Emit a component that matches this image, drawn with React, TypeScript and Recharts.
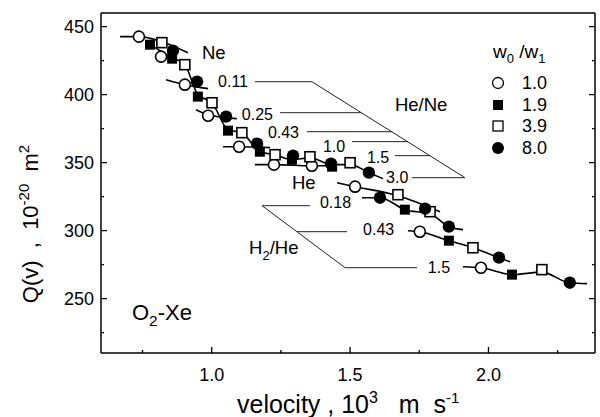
import React from 'react';
import { ComposedChart, Scatter, Line, XAxis, YAxis, ReferenceLine, Legend } from 'recharts';

const FONT = '"Liberation Sans", Arial, Helvetica, sans-serif';
const INK = '#000';

const xTicks = [0.75, 1.0, 1.25, 1.5, 1.75, 2.0, 2.25];
const xTickLabels = ['1.0', '1.5', '2.0'];
const yTicks = [225, 250, 275, 300, 325, 350, 375, 400, 425, 450];
const yTickLabels = ['250', '300', '350', '400', '450'];

const ratioNames = ['1.0', '1.9', '3.9', '8.0'];

// w0/w1 = 1.0 (open circles)
const ratio10 = [
  { x: 0.737, y: 442.6 }, { x: 0.817, y: 427.9 }, { x: 0.903, y: 407.3 }, { x: 0.987, y: 384.5 },
  { x: 1.099, y: 361.7 }, { x: 1.225, y: 348.5 }, { x: 1.362, y: 347.7 }, { x: 1.518, y: 332.3 },
  { x: 1.752, y: 299.2 }, { x: 1.973, y: 272.7 },
];
// w0/w1 = 1.9 (filled squares)
const ratio19 = [
  { x: 0.777, y: 436.7 }, { x: 0.857, y: 426.4 }, { x: 0.95, y: 398.5 }, { x: 1.059, y: 373.5 },
  { x: 1.174, y: 358.0 }, { x: 1.29, y: 352.1 }, { x: 1.435, y: 347.0 }, { x: 1.698, y: 315.4 },
  { x: 1.857, y: 292.6 }, { x: 2.085, y: 267.6 },
];
// w0/w1 = 3.9 (open squares)
const ratio39 = [
  { x: 0.82, y: 438.2 }, { x: 0.903, y: 422.0 }, { x: 1.001, y: 394.0 }, { x: 1.109, y: 372.0 },
  { x: 1.229, y: 355.8 }, { x: 1.355, y: 354.3 }, { x: 1.5, y: 349.9 }, { x: 1.673, y: 326.4 },
  { x: 1.789, y: 313.9 }, { x: 1.944, y: 287.4 }, { x: 2.193, y: 271.3 },
];
// w0/w1 = 8.0 (filled circles)
const ratio80 = [
  { x: 0.86, y: 432.3 }, { x: 0.947, y: 409.5 }, { x: 1.052, y: 383.8 }, { x: 1.164, y: 363.9 },
  { x: 1.294, y: 355.1 }, { x: 1.431, y: 349.2 }, { x: 1.568, y: 342.6 }, { x: 1.608, y: 324.2 },
  { x: 1.771, y: 316.1 }, { x: 1.857, y: 302.9 }, { x: 2.038, y: 280.1 }, { x: 2.294, y: 261.7 },
];

// hand-drawn fit curves
const fitNe = [{ x: 0.669, y: 442.6 }, { x: 0.737, y: 442.6 }, { x: 0.82, y: 438.9 }, { x: 0.914, y: 430.8 }];
const fitBand = [
  { x: 0.777, y: 436.7 }, { x: 0.857, y: 427.1 }, { x: 0.903, y: 422.0 }, { x: 0.95, y: 399.9 },
  { x: 1.001, y: 394.0 }, { x: 1.059, y: 374.2 }, { x: 1.109, y: 372.0 }, { x: 1.174, y: 358.0 },
  { x: 1.229, y: 355.8 }, { x: 1.29, y: 352.1 }, { x: 1.355, y: 353.5 }, { x: 1.435, y: 348.5 },
  { x: 1.5, y: 348.5 }, { x: 1.568, y: 342.6 }, { x: 1.619, y: 338.2 },
];
const fit011 = [{ x: 0.835, y: 411.0 }, { x: 0.903, y: 407.3 }, { x: 0.987, y: 404.4 }];
const fit025 = [{ x: 0.943, y: 388.9 }, { x: 0.987, y: 385.2 }, { x: 1.091, y: 382.3 }];
const fit043 = [{ x: 1.041, y: 361.7 }, { x: 1.099, y: 361.7 }, { x: 1.211, y: 361.0 }];
const fit10 = [{ x: 1.156, y: 348.5 }, { x: 1.225, y: 348.5 }, { x: 1.362, y: 347.7 }, { x: 1.427, y: 347.7 }];
const fitHe = [{ x: 1.453, y: 335.2 }, { x: 1.518, y: 332.3 }, { x: 1.673, y: 325.7 }, { x: 1.825, y: 313.9 }];
const fitH018 = [
  { x: 1.543, y: 324.2 }, { x: 1.608, y: 324.2 }, { x: 1.698, y: 315.4 }, { x: 1.789, y: 312.4 },
  { x: 1.857, y: 302.9 }, { x: 1.908, y: 300.7 },
];
const fitH043 = [
  { x: 1.709, y: 299.9 }, { x: 1.752, y: 299.2 }, { x: 1.857, y: 292.6 }, { x: 1.944, y: 287.4 },
  { x: 2.038, y: 280.1 }, { x: 2.078, y: 277.1 },
];
const fitH15 = [
  { x: 1.908, y: 273.4 }, { x: 1.973, y: 272.7 }, { x: 2.085, y: 267.6 }, { x: 2.193, y: 269.5 },
  { x: 2.291, y: 261.7 }, { x: 2.356, y: 261.0 },
];
const fitCurves = [fitNe, fitBand, fit011, fit025, fit043, fit10, fitHe, fitH018, fitH043, fitH15];

// leader lines of the mixture labels: [x1, y1, x2, y2]
const leaderLines = [
  [1.156, 409.5, 1.362, 409.5],
  [1.362, 409.5, 1.915, 338.9],
  [1.247, 386.7, 1.539, 386.7],
  [1.344, 372.7, 1.651, 372.7],
  [1.507, 365.4, 1.709, 365.4],
  [1.662, 355.1, 1.789, 355.1],
  [1.724, 338.9, 1.915, 338.9],
  [1.182, 318.3, 1.355, 318.3],
  [1.182, 318.3, 1.482, 272.7],
  [1.308, 299.2, 1.489, 299.2],
  [1.482, 272.7, 1.742, 272.7],
];

const ratioNotes = [
  { x: 1.023, y: 409.5, text: '0.11' },
  { x: 1.109, y: 385.2, text: '0.25' },
  { x: 1.203, y: 372.0, text: '0.43' },
  { x: 1.402, y: 361.7, text: '1.0' },
  { x: 1.561, y: 354.3, text: '1.5' },
  { x: 1.63, y: 338.9, text: '3.0' },
  { x: 1.391, y: 320.5, text: '0.18' },
  { x: 1.547, y: 300.7, text: '0.43' },
  { x: 1.781, y: 273.4, text: '1.5' },
];
const gasNotes = [
  { x: 0.965, y: 430.8, text: 'Ne', sub: '', tail: '' },
  { x: 1.662, y: 392.6, text: 'He/Ne', sub: '', tail: '' },
  { x: 1.29, y: 335.2, text: 'He', sub: '', tail: '' },
  { x: 1.135, y: 287.4, text: 'H', sub: '2', tail: '/He' },
];
const systemNote = [{ x: 0.712, y: 240.4, text: 'O', sub: '2', tail: '-Xe' }];

const OpenCircle = ({ cx, cy }: any) => <circle cx={cx} cy={cy} r={5.5} fill="#fff" stroke={INK} strokeWidth={1.6} />;
const FilledSquare = ({ cx, cy }: any) => <rect x={cx - 5} y={cy - 5} width={10} height={10} fill={INK} />;
const OpenSquare = ({ cx, cy }: any) => (
  <rect x={cx - 5} y={cy - 5} width={10} height={10} fill="#fff" stroke={INK} strokeWidth={1.6} />
);
const FilledCircle = ({ cx, cy }: any) => <circle cx={cx} cy={cy} r={6.2} fill={INK} />;

const makeNote = (size: number) => ({ cx, cy, payload }: any) => (
  <text x={cx} y={cy + size * 0.36} fontSize={size} fontFamily={FONT} fill={INK}>
    {payload.text}
    {payload.sub ? <tspan dy={size * 0.3} fontSize={size * 0.7}>{payload.sub}</tspan> : null}
    {payload.tail ? <tspan dy={-size * 0.3}>{payload.tail}</tspan> : null}
  </text>
);
const RatioNote = makeNote(16);
const GasNote = makeNote(18.5);
const SystemNote = makeNote(22);

const BottomTick = ({ x, y, payload }: any) => {
  const label = Number(payload.value).toFixed(1);
  const major = xTickLabels.includes(label);
  return (
    <g>
      <line x1={x} x2={x} y1={y} y2={y - (major ? 6 : 3)} stroke={INK} strokeWidth={1.3} />
      {major && (
        <text x={x} y={y + 28} textAnchor="middle" fontSize={18} fontFamily={FONT} fill={INK}>
          {label}
        </text>
      )}
    </g>
  );
};
const TopTick = ({ x, y, payload }: any) => {
  const major = xTickLabels.includes(Number(payload.value).toFixed(1));
  return <line x1={x} x2={x} y1={y} y2={y + (major ? 6 : 3)} stroke={INK} strokeWidth={1.3} />;
};
const LeftTick = ({ x, y, payload }: any) => {
  const label = String(payload.value);
  const major = yTickLabels.includes(label);
  return (
    <g>
      <line x1={x} x2={x + (major ? 6 : 3)} y1={y} y2={y} stroke={INK} strokeWidth={1.3} />
      {major && (
        <text x={x - 7} y={y + 6.5} textAnchor="end" fontSize={18} fontFamily={FONT} fill={INK}>
          {label}
        </text>
      )}
    </g>
  );
};
const RightTick = ({ x, y, payload }: any) => {
  const major = yTickLabels.includes(String(payload.value));
  return <line x1={x} x2={x - (major ? 6 : 3)} y1={y} y2={y} stroke={INK} strokeWidth={1.3} />;
};

const legendMarkers = [
  <circle cx={10} cy={10} r={5.5} fill="#fff" stroke={INK} strokeWidth={1.3} />,
  <rect x={5} y={5} width={10} height={10} fill={INK} />,
  <rect x={5} y={5} width={10} height={10} fill="#fff" stroke={INK} strokeWidth={1.3} />,
  <circle cx={10} cy={10} r={6} fill={INK} />,
];

const LegendBox = () => (
  <div style={{ position: 'relative', width: 110, height: 130, fontFamily: FONT, color: INK }}>
    <div style={{ position: 'absolute', left: 5, top: 3, fontSize: 19, lineHeight: '22px', whiteSpace: 'pre' }}>
      w<span style={{ fontSize: 13, position: 'relative', top: 5 }}>0</span> /w
      <span style={{ fontSize: 13, position: 'relative', top: 5 }}>1</span>
    </div>
    {ratioNames.map((r, i) => (
      <div key={r} style={{ position: 'absolute', left: 0, top: 35 + i * 21.7, height: 20, width: 110 }}>
        <svg width={20} height={20} style={{ position: 'absolute', left: 0, top: 0 }}>
          {legendMarkers[i]}
        </svg>
        <span style={{ position: 'absolute', left: 34, top: 0, fontSize: 18, lineHeight: '20px' }}>{r}</span>
      </div>
    ))}
  </div>
);

const axisLine = { stroke: INK, strokeWidth: 1.5 };

export default function App() {
  return (
    <div style={{ position: 'absolute', left: 0, top: 0, width: 600, height: 417, background: '#fff' }}>
      <ComposedChart width={600} height={417} margin={{ top: 0, right: 0, bottom: 0, left: 0 }}>
        <XAxis
          xAxisId="b" dataKey="x" type="number" domain={[0.6, 2.385]} ticks={xTicks} interval={0}
          height={64} tickSize={0} tickMargin={0} tickLine={false} tick={<BottomTick />} axisLine={axisLine}
          allowDataOverflow
        />
        <XAxis
          xAxisId="t" orientation="top" type="number" domain={[0.6, 2.385]} ticks={xTicks} interval={0}
          height={13} tickSize={0} tickMargin={0} tickLine={false} tick={<TopTick />} axisLine={axisLine}
          allowDataOverflow
        />
        <YAxis
          yAxisId="l" dataKey="y" type="number" domain={[210, 460]} ticks={yTicks} interval={0}
          width={101} tickSize={0} tickMargin={0} tickLine={false} tick={<LeftTick />} axisLine={axisLine}
          allowDataOverflow
        />
        <YAxis
          yAxisId="r" orientation="right" type="number" domain={[210, 460]} ticks={yTicks} interval={0}
          width={5} tickSize={0} tickMargin={0} tickLine={false} tick={<RightTick />} axisLine={axisLine}
          allowDataOverflow
        />
        <Legend
          layout="vertical" align="center" verticalAlign="middle" content={<LegendBox />}
          wrapperStyle={{ position: 'absolute', left: 488, top: 38, width: 110, height: 130 }}
        />
        {leaderLines.map((s, i) => (
          <ReferenceLine
            key={`ld${i}`} xAxisId="b" yAxisId="l" ifOverflow="visible"
            segment={[{ x: s[0], y: s[1] }, { x: s[2], y: s[3] }]} stroke="#222" strokeWidth={1}
          />
        ))}
        {fitCurves.map((c, i) => (
          <Line
            key={`fit${i}`} xAxisId="b" yAxisId="l" data={c} dataKey="y" type="monotone" stroke={INK}
            strokeWidth={1.6} dot={false} activeDot={false} legendType="none" isAnimationActive={false}
          />
        ))}
        <Scatter name="1.0" xAxisId="b" yAxisId="l" data={ratio10} shape={OpenCircle} isAnimationActive={false} />
        <Scatter name="1.9" xAxisId="b" yAxisId="l" data={ratio19} shape={FilledSquare} isAnimationActive={false} />
        <Scatter name="3.9" xAxisId="b" yAxisId="l" data={ratio39} shape={OpenSquare} isAnimationActive={false} />
        <Scatter name="8.0" xAxisId="b" yAxisId="l" data={ratio80} shape={FilledCircle} isAnimationActive={false} />
        <Scatter xAxisId="b" yAxisId="l" data={ratioNotes} shape={RatioNote} legendType="none" isAnimationActive={false} />
        <Scatter xAxisId="b" yAxisId="l" data={gasNotes} shape={GasNote} legendType="none" isAnimationActive={false} />
        <Scatter xAxisId="b" yAxisId="l" data={systemNote} shape={SystemNote} legendType="none" isAnimationActive={false} />
      </ComposedChart>
      <svg width={600} height={417} style={{ position: 'absolute', left: 0, top: 0, pointerEvents: 'none' }}>
        <text x={237} y={413} fontSize={25} fontFamily={FONT} fill={INK} xmlSpace="preserve" style={{ whiteSpace: 'pre' }}>
          velocity , 10<tspan dy={-10} fontSize={16}>3</tspan>
          <tspan dy={10}>   m  s</tspan>
          <tspan dy={-10} fontSize={15}>-1</tspan>
        </text>
        <text
          transform="translate(38,224) rotate(-90)" textAnchor="middle" fontSize={22} fontFamily={FONT} fill={INK}
          xmlSpace="preserve" style={{ whiteSpace: 'pre' }}
        >
          Q(v)  ,  10<tspan dy={-9} fontSize={15}>-20</tspan>
          <tspan dy={9}>  m</tspan>
          <tspan dy={-9} fontSize={15}>2</tspan>
        </text>
      </svg>
    </div>
  );
}
